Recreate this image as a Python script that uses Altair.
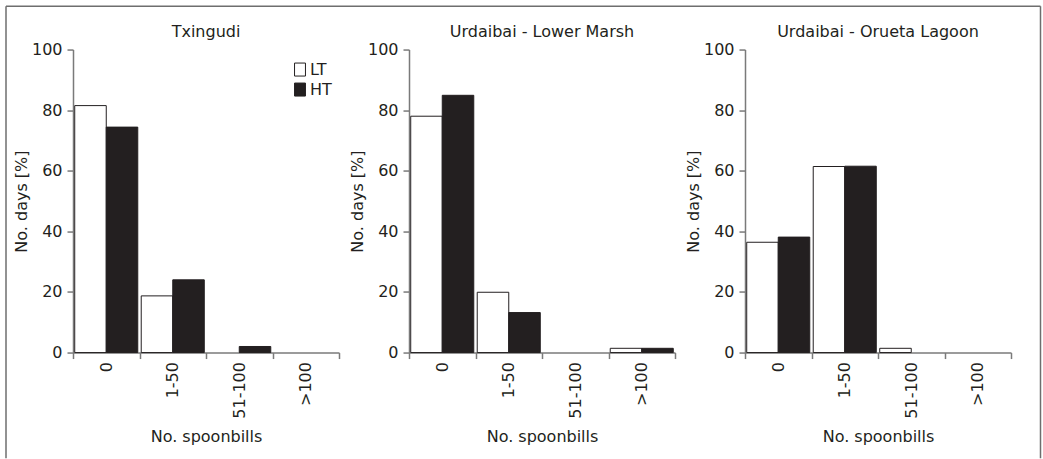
import altair as alt
import pandas as pd

sites = ["Txingudi", "Urdaibai - Lower Marsh", "Urdaibai - Orueta Lagoon"]
categories = ["0", "1-50", "51-100", ">100"]
tides = ["LT", "HT"]

lt_values = {
    "Txingudi": [81.5, 18.7, 0.0, 0.0],
    "Urdaibai - Lower Marsh": [78.0, 19.9, 0.0, 1.4],
    "Urdaibai - Orueta Lagoon": [36.4, 61.4, 1.4, 0.0],
}
ht_values = {
    "Txingudi": [74.4, 24.0, 2.0, 0.0],
    "Urdaibai - Lower Marsh": [84.9, 13.2, 0.0, 1.4],
    "Urdaibai - Orueta Lagoon": [38.1, 61.5, 0.0, 0.0],
}

rows = []
for s in sites:
    for i, c in enumerate(categories):
        rows.append({"site": s, "cat": c, "tide": "LT", "value": lt_values[s][i]})
        rows.append({"site": s, "cat": c, "tide": "HT", "value": ht_values[s][i]})
df = pd.DataFrame(rows)

FONT = "DejaVu Sans"
FS = 16
TXT = "#231f20"
AX = "#7a7a7a"
DARK = "#231f20"
FRAME = "#6e6e6e"

W, H = 266, 303
GAP = 70


def panel(site, first=False):
    color_legend = alt.Legend(
        title=None,
        orient="none",
        legendX=219,
        legendY=12,
        padding=0,
        symbolType="M-0.84,-1L0.84,-1L0.84,1L-0.84,1Z",
        symbolSize=169,
        symbolStrokeColor=DARK,
        symbolStrokeWidth=1,
        labelFont=FONT,
        labelFontSize=FS,
        labelColor=TXT,
        labelOffset=2,
        rowPadding=2,
    ) if first else None
    return (
        alt.Chart(df[df.site == site])
        .transform_filter("datum.value > 0")
        .mark_bar(stroke=DARK, strokeWidth=1)
        .encode(
            x=alt.X(
                "cat:N",
                sort=categories,
                scale=alt.Scale(domain=categories, paddingInner=0, paddingOuter=0),
                axis=alt.Axis(
                    title="No. spoonbills",
                    labelAngle=-90,
                    tickBand="extent",
                    tickSize=6,
                    labelPadding=3,
                    titlePadding=10,
                ),
            ),
            xOffset=alt.XOffset(
                "tide:N",
                sort=tides,
                scale=alt.Scale(domain=tides, paddingInner=0, paddingOuter=0.055),
            ),
            y=alt.Y(
                "value:Q",
                scale=alt.Scale(domain=[0, 100], nice=False),
                axis=alt.Axis(
                    title="No. days [%]",
                    values=[0, 20, 40, 60, 80, 100],
                    tickSize=6,
                    labelPadding=5,
                    titlePadding=2,
                    grid=False,
                ),
            ),
            color=alt.Color(
                "tide:N",
                sort=tides,
                scale=alt.Scale(domain=tides, range=["#ffffff", DARK]),
                legend=color_legend,
            ),
        )
        .properties(
            width=W,
            height=H,
            title=alt.TitleParams(
                site, font=FONT, fontSize=FS, fontWeight="normal", color=TXT, offset=2
            ),
        )
    )


panels = alt.hconcat(
    panel(sites[0], first=True),
    panel(sites[1]),
    panel(sites[2]),
    spacing=GAP,
    bounds="flush",
).resolve_scale(color="independent")

# Outer figure frame (decoration only)
blank = alt.Data(values=[{"k": 1}])
frame_left = alt.Chart(blank).mark_rule(color=FRAME, strokeWidth=1.5).encode(
    x=alt.value(-67), y=alt.value(0), y2=alt.value(452)
)
frame_right = alt.Chart(blank).mark_rule(color=FRAME, strokeWidth=1.5).encode(
    x=alt.value(967.5), y=alt.value(0), y2=alt.value(452)
)
frame_top = alt.Chart(blank).mark_rule(color=FRAME, strokeWidth=1.5).encode(
    x=alt.value(-67), x2=alt.value(967.5), y=alt.value(0)
)
frame = alt.layer(frame_left, frame_right, frame_top).properties(
    width=3 * W + 2 * GAP, height=1
)

chart = (
    alt.vconcat(frame, panels, spacing=42.3, bounds="flush")
    .properties(padding={"left": 5, "top": 5.25, "right": 0, "bottom": 0})
    .configure_view(stroke=None)
    .configure_axis(
        labelFont=FONT,
        titleFont=FONT,
        labelFontSize=FS,
        titleFontSize=FS,
        titleFontWeight="normal",
        labelColor=TXT,
        titleColor=TXT,
        domainColor=AX,
        domainWidth=1.5,
        tickColor=AX,
        tickWidth=1.5,
    )
)

chart.save("out.html", embed_options={"renderer": "svg", "actions": False})
